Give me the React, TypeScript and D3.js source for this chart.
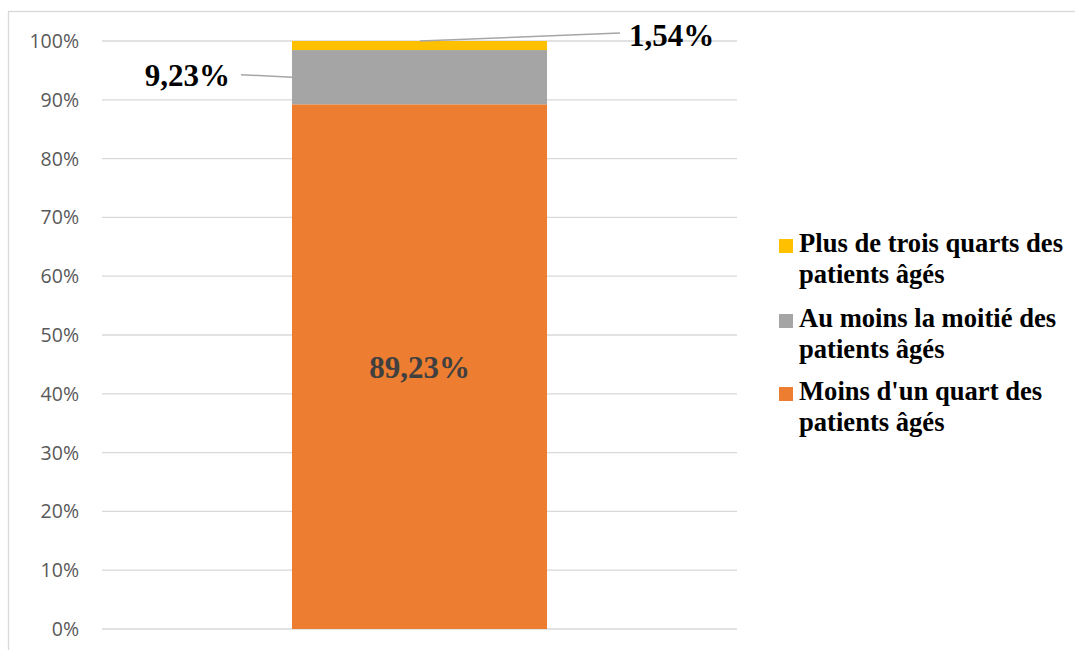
import React from "react";
import * as d3 from "d3";

const categories = ["Catégorie"];
const seriesNames = [
  "Moins d'un quart des patients âgés",
  "Au moins la moitié des patients âgés",
  "Plus de trois quarts des patients âgés",
];
const seriesValues = [89.23, 9.23, 1.54];
const seriesLabels = ["89,23%", "9,23%", "1,54%"];
const seriesColors = ["#ED7D31", "#A5A5A5", "#FFC000"];
const legendLines = [
  ["Plus de trois quarts des", "patients âgés"],
  ["Au moins la moitié des", "patients âgés"],
  ["Moins d'un quart des", "patients âgés"],
];
const legendColors = ["#FFC000", "#A5A5A5", "#ED7D31"];
const yTicks = [0, 10, 20, 30, 40, 50, 60, 70, 80, 90, 100];

export default function App() {
  const W = 1075, H = 650;
  const plotLeft = 102, plotRight = 737;
  const y = d3.scaleLinear().domain([0, 100]).range([629, 41]);
  const x = d3.scaleBand().domain(categories).range([plotLeft, plotRight]).paddingInner(0).paddingOuter(0.745);
  const stackData = [Object.fromEntries(seriesNames.map((n, i) => [n, seriesValues[i]]))];
  const stacked = d3.stack<any>().keys(seriesNames)(stackData as any);
  const bx = x(categories[0])!;
  const bw = x.bandwidth();
  const serif = "'Liberation Serif', 'Times New Roman', serif";
  const sans = "'Open Sans', 'Liberation Sans', sans-serif";

  const s0 = stacked[0][0];
  const s1 = stacked[1][0];
  const s2 = stacked[2][0];
  const grayMid = y((s1[0] + s1[1]) / 2);
  const yellowTop = y(s2[1]);

  return (
    <svg width={W} height={H} style={{ position: "absolute", left: 0, top: 0 }}>
      <rect x={0} y={0} width={W} height={H} fill="#fff" />
      <rect x={8.5} y={11.5} width={W} height={H} fill="none" stroke="#d9d9d9" strokeWidth={1.3} />
      {yTicks.map((t) => (
        <g key={t}>
          <line x1={plotLeft} x2={plotRight} y1={y(t)} y2={y(t)} stroke="#d9d9d9" strokeWidth={1.3} />
          <text x={79} y={y(t)} dy="0.36em" textAnchor="end" fontFamily={sans} fontSize={19.5} fill="#595959">
            {t}%
          </text>
        </g>
      ))}
      {stacked.map((s, i) => (
        <rect
          key={i}
          x={bx}
          width={bw}
          y={y(s[0][1])}
          height={y(s[0][0]) - y(s[0][1])}
          fill={seriesColors[i]}
        />
      ))}
      <text
        x={bx + bw / 2}
        y={y((s0[0] + s0[1]) / 2)}
        dy="0.35em"
        textAnchor="middle"
        fontFamily={serif}
        fontWeight="bold"
        fontSize={31}
        fill="#404040"
      >
        {seriesLabels[0]}
      </text>
      <line x1={bx} y1={grayMid} x2={bx - 51} y2={grayMid - 2.5} stroke="#a6a6a6" strokeWidth={1.5} />
      <text x={bx - 62} y={grayMid + 9} textAnchor="end" fontFamily={serif} fontWeight="bold" fontSize={31} fill="#000">
        {seriesLabels[1]}
      </text>
      <line x1={bx + 128} y1={yellowTop} x2={bx + 328} y2={yellowTop - 8} stroke="#a6a6a6" strokeWidth={1.5} />
      <text x={bx + 337} y={yellowTop + 5} textAnchor="start" fontFamily={serif} fontWeight="bold" fontSize={31} fill="#000">
        {seriesLabels[2]}
      </text>
      {legendLines.map((lines, i) => {
        const base = [252, 327, 400][i];
        return (
          <g key={i}>
            <rect x={779} y={base - 13} width={14} height={14} fill={legendColors[i]} />
            {lines.map((l, j) => (
              <text key={j} x={799} y={base + j * 31} fontFamily={serif} fontWeight="bold" fontSize={26.6} fill="#000">
                {l}
              </text>
            ))}
          </g>
        );
      })}
    </svg>
  );
}
